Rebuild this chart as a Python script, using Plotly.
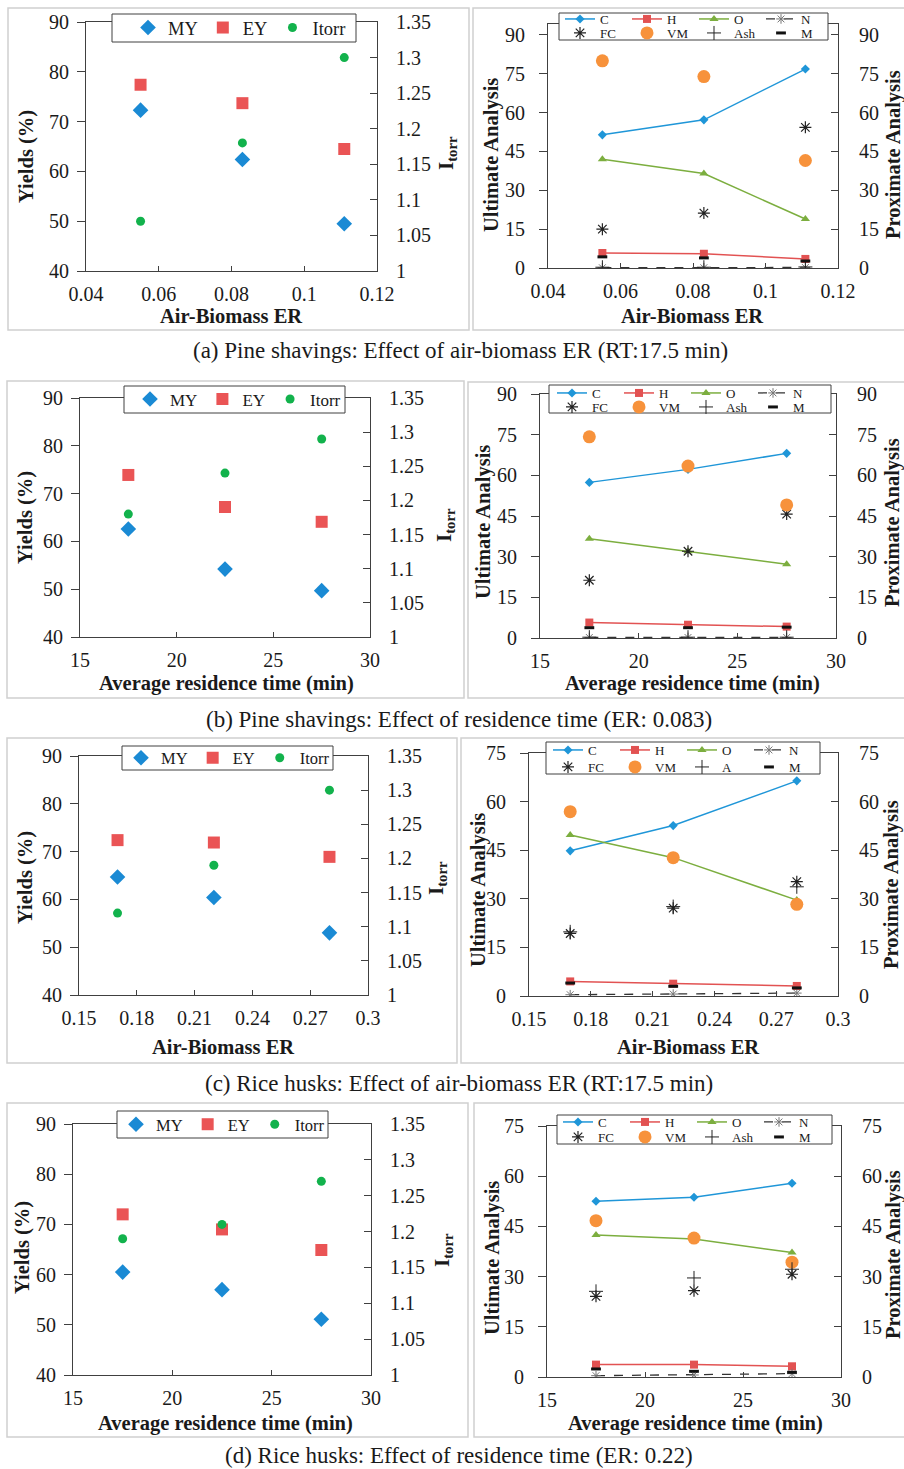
import plotly.graph_objects as go

W, H = 904, 1469
FONT = "Liberation Serif"
TXT = "#1a1a1a"
AX = "#404040"

# ---------------- data ----------------
er_pine = [0.055, 0.083, 0.111]
rt_min = [17.5, 22.5, 27.5]
er_rice = [0.17, 0.22, 0.28]

# (a) Pine shavings: effect of air-biomass ER
a_my = [72.3, 62.4, 49.5]
a_ey = [77.4, 73.7, 64.5]
a_itorr = [1.07, 1.18, 1.30]
a_c = [51.4, 57.2, 76.8]
a_h = [5.8, 5.5, 3.5]
a_o = [42.0, 36.5, 18.9]
a_n = [0.1, 0.1, 0.2]
a_fc = [15.0, 21.2, 54.3]
a_vm = [80.0, 73.9, 41.5]
a_ash = [0.3, 0.3, 0.4]
a_m = [4.3, 3.9, 2.7]

# (b) Pine shavings: effect of residence time
b_my = [62.6, 54.2, 49.7]
b_ey = [73.9, 67.2, 64.1]
b_itorr = [1.18, 1.24, 1.29]
b_c = [57.4, 62.2, 68.1]
b_h = [5.7, 4.9, 4.2]
b_o = [36.6, 32.0, 27.2]
b_n = [0.2, 0.2, 0.2]
b_fc = [21.3, 32.0, 45.7]
b_vm = [74.2, 63.4, 49.1]
b_ash = [0.3, 0.3, 0.3]
b_m = [3.8, 3.8, 4.0]

# (c) Rice husks: effect of air-biomass ER
c_my = [64.7, 60.4, 53.0]
c_ey = [72.4, 71.9, 68.9]
c_itorr = [1.12, 1.19, 1.30]
c_c = [44.8, 52.6, 66.4]
c_h = [4.5, 3.8, 3.1]
c_o = [49.7, 42.7, 29.6]
c_n = [0.4, 0.6, 0.9]
c_fc = [19.3, 27.1, 35.3]
c_vm = [56.9, 42.7, 28.3]
c_ash = [19.8, 27.6, 33.7]
c_m = [4.0, 3.0, 2.5]

# (d) Rice husks: effect of residence time
d_my = [60.5, 57.0, 51.1]
d_ey = [72.0, 69.0, 64.9]
d_itorr = [1.19, 1.21, 1.27]
d_c = [52.5, 53.7, 57.9]
d_h = [3.7, 3.7, 3.2]
d_o = [42.4, 41.2, 37.2]
d_n = [0.4, 0.6, 1.0]
d_fc = [24.1, 25.8, 30.7]
d_vm = [46.7, 41.5, 34.3]
d_ash = [25.6, 29.6, 32.2]
d_m = [2.4, 1.7, 1.4]

# ticks
yield_ticks = [40, 50, 60, 70, 80, 90]
itorr_ticks = [1.0, 1.05, 1.1, 1.15, 1.2, 1.25, 1.3, 1.35]
itorr_labels = ["1", "1.05", "1.1", "1.15", "1.2", "1.25", "1.3", "1.35"]
er_pine_ticks = [0.04, 0.06, 0.08, 0.10, 0.12]
er_pine_labels = ["0.04", "0.06", "0.08", "0.1", "0.12"]
rt_ticks = [15, 20, 25, 30]
er_rice_ticks = [0.15, 0.18, 0.21, 0.24, 0.27, 0.30]
er_rice_labels = ["0.15", "0.18", "0.21", "0.24", "0.27", "0.3"]
ua_ticks_90 = [0, 15, 30, 45, 60, 75, 90]
ua_ticks_75 = [0, 15, 30, 45, 60, 75]

captions = [
    "(a) Pine shavings: Effect of air-biomass ER (RT:17.5 min)",
    "(b) Pine shavings: Effect of residence time (ER: 0.083)",
    "(c) Rice husks: Effect of air-biomass ER (RT:17.5 min)",
    "(d) Rice husks: Effect of residence time (ER: 0.22)",
]

# colours
COL_MY = "#1a8ad4"
COL_EY = "#ea5455"
COL_IT = "#12b24c"
COL_C = "#1f96d8"
COL_H = "#e25252"
COL_O = "#7cae3f"
COL_VM = "#f7923b"
COL_K = "#222222"

TICK_FS = 20
TITLE_FS = 20.5
CAP_FS = 23


def fx(px):
    return px / W


def fy(py):
    return 1 - py / H


fig = go.Figure()
lay = {}
shapes = []
annos = []
legend_count = [0]


def new_legend(cfg):
    legend_count[0] += 1
    n = legend_count[0]
    name = "legend" if n == 1 else f"legend{n}"
    lay[name] = cfg
    return name


def tickfont(size=TICK_FS):
    return dict(family=FONT, size=size, color=TXT)


def make_axes(idx, box, xr, xt, xtt, yr, yt, ytt, y2r, y2t, y2tt, stand):
    x0, x1, y0, y1 = box
    xn = f"xaxis{idx + 1}"
    yl = 2 * idx + 1
    yr_ = 2 * idx + 2
    lay[xn] = dict(domain=[fx(x0), fx(x1)], range=xr, tickvals=xt, ticktext=xtt,
                   anchor=f"y{yl}", showline=True, linecolor=AX, linewidth=1, mirror=True,
                   ticks="inside", ticklen=5, tickcolor=AX, showgrid=False, zeroline=False,
                   tickfont=tickfont(), ticklabelstandoff=stand[0], fixedrange=True,
                   automargin=False)
    lay[f"yaxis{yl}"] = dict(domain=[fy(y1), fy(y0)], range=yr, tickvals=yt, ticktext=ytt,
                             anchor=f"x{idx + 1}", side="left", showline=True, linecolor=AX,
                             linewidth=1, ticks="outside", ticklen=8, tickcolor=AX,
                             showgrid=False, zeroline=False, tickfont=tickfont(),
                             ticklabelstandoff=stand[1], fixedrange=True, automargin=False)
    lay[f"yaxis{yr_}"] = dict(domain=[fy(y1), fy(y0)], range=y2r, tickvals=y2t, ticktext=y2tt,
                              anchor=f"x{idx + 1}", overlaying=f"y{yl}", side="right",
                              showline=True, linecolor=AX, linewidth=1, ticks="inside",
                              ticklen=7, tickcolor=AX, showgrid=False, zeroline=False,
                              tickfont=tickfont(), ticklabelstandoff=stand[2], fixedrange=True,
                              automargin=False)
    return f"x{idx + 1}", f"y{yl}", f"y{yr_}"


def anno(x, y, text, size, angle=0):
    annos.append(dict(x=fx(x), y=fy(y), xref="paper", yref="paper", text=text, showarrow=False,
                      xanchor="center", yanchor="middle", textangle=angle,
                      font=dict(family=FONT, size=size, color=TXT)))


def rect(x0, y0, x1, y1, line, width, fill=None, layer="below"):
    s = dict(type="rect", xref="paper", yref="paper", x0=fx(x0), x1=fx(x1), y0=fy(y1), y1=fy(y0),
             line=dict(color=line, width=width), layer=layer)
    if fill:
        s["fillcolor"] = fill
    shapes.append(s)


left_specs = [
    dict(x=er_pine, my=a_my, ey=a_ey, it=a_itorr, box=(86, 377, 22, 271), xr=[0.04, 0.12],
         xt=er_pine_ticks, xtt=er_pine_labels, xtitle="Air-Biomass ER",
         border=(8, 8, 469, 330), leg=(112, 14, 356, 42), legx=128, lfs=18.5,
         yt_pos=(27, 157), rt_pos=(447, 153), xt_pos=(231, 316)),
    dict(x=rt_min, my=b_my, ey=b_ey, it=b_itorr, box=(80, 370, 398, 637), xr=[15, 30],
         xt=rt_ticks, xtt=[str(v) for v in rt_ticks], xtitle="Average residence time (min)",
         border=(7, 381, 464, 698), leg=(124, 386, 345, 413), legx=130, lfs=17,
         yt_pos=(25, 518), rt_pos=(445, 525), xt_pos=(226, 683)),
    dict(x=er_rice, my=c_my, ey=c_ey, it=c_itorr, box=(79, 368, 756, 995), xr=[0.15, 0.30],
         xt=er_rice_ticks, xtt=er_rice_labels, xtitle="Air-Biomass ER",
         border=(7, 738, 457, 1063), leg=(122, 746, 333, 770), legx=121, lfs=16.5,
         yt_pos=(25, 878), rt_pos=(437, 878), xt_pos=(223, 1047)),
    dict(x=rt_min, my=d_my, ey=d_ey, it=d_itorr, box=(73, 371, 1124, 1375), xr=[15, 30],
         xt=rt_ticks, xtt=[str(v) for v in rt_ticks], xtitle="Average residence time (min)",
         border=(7, 1103, 468, 1437), leg=(117, 1111, 328, 1138), legx=116, lfs=16.5,
         yt_pos=(22, 1248), rt_pos=(443, 1250), xt_pos=(225, 1423)),
]

right_specs = [
    dict(x=er_pine, c=a_c, h=a_h, o=a_o, n=a_n, fc=a_fc, vm=a_vm, ash=a_ash, m=a_m, ashname="Ash",
         box=(548, 838, 24, 268), xr=[0.04, 0.12], xt=er_pine_ticks, xtt=er_pine_labels,
         yr=[0, 94.2], yt=ua_ticks_90, xtitle="Air-Biomass ER",
         border=(473, 8, 910, 330), leg=(559, 13, 828, 40), legx=560, rows=(19, 33),
         yt_pos=(491, 155), rt_pos=(893, 155), xt_pos=(692, 316)),
    dict(x=rt_min, c=b_c, h=b_h, o=b_o, n=b_n, fc=b_fc, vm=b_vm, ash=b_ash, m=b_m, ashname="Ash",
         box=(540, 836, 394, 638), xr=[15, 30], xt=rt_ticks, xtt=[str(v) for v in rt_ticks],
         yr=[0, 90], yt=ua_ticks_90, xtitle="Average residence time (min)",
         border=(468, 382, 910, 698), leg=(549, 385, 831, 413), legx=552, rows=(393, 407),
         yt_pos=(483, 522), rt_pos=(892, 523), xt_pos=(692, 684)),
    dict(x=er_rice, c=c_c, h=c_h, o=c_o, n=c_n, fc=c_fc, vm=c_vm, ash=c_ash, m=c_m, ashname="A",
         box=(529, 838, 753, 996), xr=[0.15, 0.30], xt=er_rice_ticks, xtt=er_rice_labels,
         yr=[0, 75], yt=ua_ticks_75, xtitle="Air-Biomass ER",
         border=(461, 738, 910, 1063), leg=(546, 742, 820, 774), legx=548, rows=(750, 767),
         yt_pos=(478, 890), rt_pos=(891, 885), xt_pos=(688, 1047)),
    dict(x=rt_min, c=d_c, h=d_h, o=d_o, n=d_n, fc=d_fc, vm=d_vm, ash=d_ash, m=d_m, ashname="Ash",
         box=(547, 841, 1126, 1377), xr=[15, 30], xt=rt_ticks, xtt=[str(v) for v in rt_ticks],
         yr=[0, 75], yt=ua_ticks_75, xtitle="Average residence time (min)",
         border=(474, 1103, 910, 1437), leg=(557, 1115, 832, 1144), legx=558, rows=(1122, 1137),
         yt_pos=(492, 1258), rt_pos=(893, 1255), xt_pos=(695, 1423)),
]

for i in range(4):
    # ---- left (yields) panel ----
    s = left_specs[i]
    xa, ya, y2a = make_axes(2 * i, s["box"], s["xr"], s["xt"], s["xtt"], [40, 90], yield_ticks,
                            [str(v) for v in yield_ticks], [1.0, 1.35], itorr_ticks, itorr_labels,
                            (5, 4, 14))
    bx0, by0, bx1, by1 = s["border"]
    rect(bx0, by0, bx1, by1, "#d0d0d0", 1.5)
    l0, t0, l1, t1 = s["leg"]
    rect(l0, t0, l1, t1, AX, 1, fill="white", layer="above")
    lg = new_legend(dict(x=fx(s["legx"]), y=fy((t0 + t1) / 2), xanchor="left", yanchor="middle",
                         orientation="h", bgcolor="rgba(0,0,0,0)", borderwidth=0,
                         font=dict(family=FONT, size=s["lfs"], color=TXT), itemwidth=30,
                         traceorder="normal"))
    fig.add_trace(go.Scatter(x=s["x"], y=s["my"], mode="markers", name="MY", xaxis=xa, yaxis=ya,
                             legend=lg, marker=dict(symbol="diamond", size=12, color=COL_MY)))
    fig.add_trace(go.Scatter(x=s["x"], y=s["ey"], mode="markers", name="EY", xaxis=xa, yaxis=ya,
                             legend=lg, marker=dict(symbol="square", size=12, color=COL_EY)))
    fig.add_trace(go.Scatter(x=s["x"], y=s["it"], mode="markers", name="Itorr", xaxis=xa, yaxis=y2a,
                             legend=lg, marker=dict(symbol="circle", size=9, color=COL_IT)))
    anno(*s["yt_pos"], "<b>Yields (%)</b>", TITLE_FS, -90)
    anno(*s["rt_pos"], "<b>I<sub>torr</sub></b>", 21, -90)
    anno(*s["xt_pos"], "<b>" + s["xtitle"] + "</b>", TITLE_FS)

    # ---- right (composition) panel ----
    r = right_specs[i]
    xa, ya, y2a = make_axes(2 * i + 1, r["box"], r["xr"], r["xt"], r["xtt"], r["yr"], r["yt"],
                            [str(v) for v in r["yt"]], r["yr"], r["yt"], [str(v) for v in r["yt"]],
                            (5, 10, 16))
    bx0, by0, bx1, by1 = r["border"]
    rect(bx0, by0, bx1, by1, "#d0d0d0", 1.5)
    l0, t0, l1, t1 = r["leg"]
    rect(l0, t0, l1, t1, AX, 1, fill="white", layer="above")
    lgcfg = dict(x=fx(r["legx"]), xanchor="left", yanchor="middle", orientation="h",
                 bgcolor="rgba(0,0,0,0)", borderwidth=0, itemwidth=30,
                 font=dict(family=FONT, size=13, color=TXT), entrywidth=22,
                 entrywidthmode="pixels", traceorder="normal")
    lg1 = new_legend(dict(lgcfg, y=fy(r["rows"][0])))
    lg2 = new_legend(dict(lgcfg, y=fy(r["rows"][1])))
    fig.add_trace(go.Scatter(x=r["x"], y=r["c"], mode="lines+markers", name="C", xaxis=xa, yaxis=ya,
                             legend=lg1, line=dict(color=COL_C, width=1.5),
                             marker=dict(symbol="diamond", size=7, color=COL_C)))
    fig.add_trace(go.Scatter(x=r["x"], y=r["h"], mode="lines+markers", name="H", xaxis=xa, yaxis=ya,
                             legend=lg1, line=dict(color=COL_H, width=1.5),
                             marker=dict(symbol="square", size=8, color=COL_H)))
    fig.add_trace(go.Scatter(x=r["x"], y=r["o"], mode="lines+markers", name="O", xaxis=xa, yaxis=ya,
                             legend=lg1, line=dict(color=COL_O, width=1.5),
                             marker=dict(symbol="triangle-up", size=8, color=COL_O)))
    fig.add_trace(go.Scatter(x=r["x"], y=r["n"], mode="lines+markers", name="N", xaxis=xa, yaxis=ya,
                             legend=lg1, line=dict(color="#333333", width=1.3, dash="dash"),
                             marker=dict(symbol="asterisk-open", size=8, color="#777777",
                                         line=dict(color="#777777", width=1))))
    fig.add_trace(go.Scatter(x=r["x"], y=r["fc"], mode="markers", name="FC", xaxis=xa, yaxis=y2a,
                             legend=lg2, marker=dict(symbol="asterisk-open", size=10, color=COL_K,
                                                     line=dict(color=COL_K, width=1.2))))
    fig.add_trace(go.Scatter(x=r["x"], y=r["vm"], mode="markers", name="VM", xaxis=xa, yaxis=y2a,
                             legend=lg2, marker=dict(symbol="circle", size=13, color=COL_VM)))
    fig.add_trace(go.Scatter(x=r["x"], y=r["ash"], mode="markers", name=r["ashname"], xaxis=xa,
                             yaxis=y2a, legend=lg2,
                             marker=dict(symbol="cross-thin-open", size=10, color=COL_K,
                                         line=dict(color=COL_K, width=1))))
    fig.add_trace(go.Scatter(x=r["x"], y=r["m"], mode="markers", name="M", xaxis=xa, yaxis=y2a,
                             legend=lg2, marker=dict(symbol="line-ew-open", size=7, color="#111111",
                                                     line=dict(color="#111111", width=3))))
    anno(*r["yt_pos"], "<b>Ultimate Analysis</b>", TITLE_FS, -90)
    anno(*r["rt_pos"], "<b>Proximate Analysis</b>", TITLE_FS, -90)
    anno(*r["xt_pos"], "<b>" + r["xtitle"] + "</b>", TITLE_FS)

cap_pos = [(460, 350), (459, 719), (459, 1083), (459, 1455)]
for (cx, cy), txt in zip(cap_pos, captions):
    anno(cx, cy, txt, CAP_FS)

fig.update_layout(width=W, height=H,
                  margin=dict(l=0, r=0, t=0, b=0, pad=0, autoexpand=False),
                  paper_bgcolor="white", plot_bgcolor="rgba(0,0,0,0)", showlegend=True,
                  hovermode=False, shapes=shapes, annotations=annos, **lay)

fig.write_html("out.html", config={"displayModeBar": False},
               post_script="document.body.style.margin='0px';document.body.style.overflow='hidden';")
